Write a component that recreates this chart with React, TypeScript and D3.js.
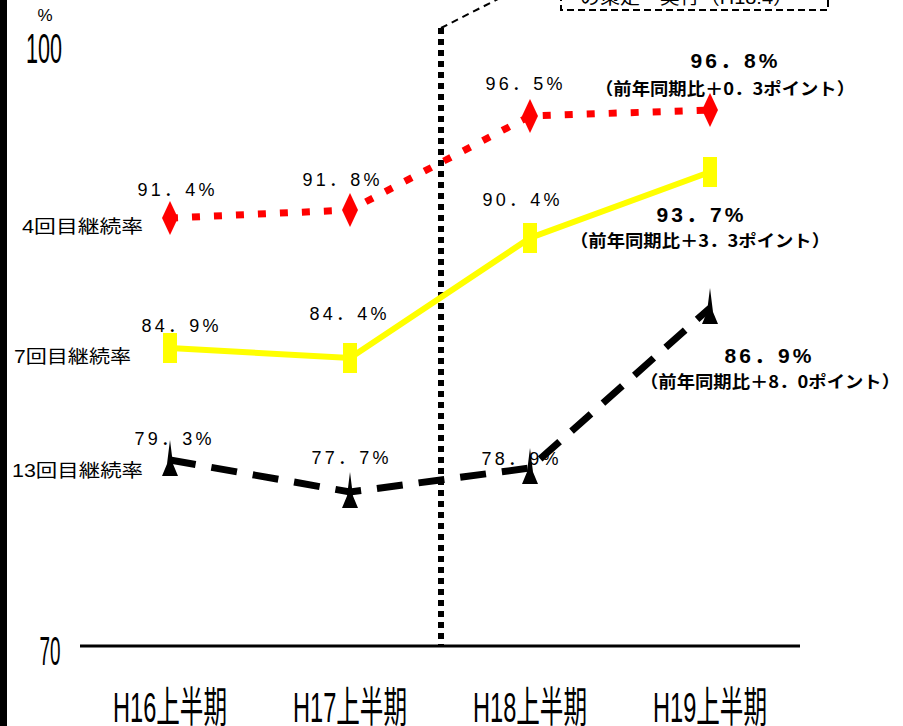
import React from 'react';
import * as d3 from 'd3';

// ── Data ─────────────────────────────────────────────────────────────────────
const periods = ['H16上半期', 'H17上半期', 'H18上半期', 'H19上半期'];
const rate4 = [91.4, 91.8, 96.5, 96.8];
const rate7 = [84.9, 84.4, 90.4, 93.7];
const rate13 = [79.3, 77.7, 78.9, 86.9];
const seriesNames = ['4回目継続率', '7回目継続率', '13回目継続率'];
const yTicks = [70, 100];
const labels4 = ['91．4%', '91．8%', '96．5%'];
const labels7 = ['84．9%', '84．4%', '90．4%'];
const labels13 = ['79．3%', '77．7%', '78．9%'];
const latest = ['96．8%', '93．7%', '86．9%'];
const latestDiff = ['（前年同期比＋0．3ポイント）', '（前年同期比＋3．3ポイント）', '（前年同期比＋8．0ポイント）'];

// label nudges relative to their point: [dx, dy]
const off4 = [[6, -22], [-9, -24], [-6, -26]];
const off7 = [[10, -16], [-2, -38], [-9, -32]];
const off13 = [[3, -15], [0, -28], [-10, -3]];
// last-point callouts: [dx main, dy main, dx sub, dy sub]
const offLatest = [[24, -42, 15, -15], [-10, 50, -10, 75], [58, 55, 60, 80]];

const W = 903;
const H = 726;
const SANS = '"Liberation Sans", Arial, "Noto Sans CJK JP", sans-serif';
const JP = '"Noto Sans CJK JP", sans-serif';
const X_SQUEEZE = 0.56;
const Y_SQUEEZE = 0.5;

export default function App() {
  const x = d3.scalePoint<string>().domain(periods).range([80, 800]).padding(0.5);
  const y = d3.scaleLinear().domain([70, 100]).range([646, 46]);
  const line = d3
    .line<number>()
    .x((_, i) => x(periods[i]) ?? 0)
    .y((d) => y(d));

  const px = (i: number) => x(periods[i]) ?? 0;
  const dividerX = (px(1) + px(2)) / 2 + 1;

  const valueLabel = (l: string, i: number, v: number, o: number[]) => (
    <text key={l} x={px(i) + o[0]} y={y(v) + o[1]} textAnchor="middle" fontSize={18}
      fontFamily={SANS} textLength={77} lengthAdjust="spacing">{l}</text>
  );

  const series = [rate4, rate7, rate13];

  return (
    <svg width={W} height={H} style={{ position: 'absolute', left: 0, top: 0, background: '#fff' }}>
      {/* left frame edge */}
      <rect x={0} y={0} width={7} height={H} fill="#000" />

      {/* y labels (condensed) */}
      <text x={45} y={21} textAnchor="middle" fontSize={17} fontFamily={SANS}>%</text>
      <text transform={`translate(44,63) scale(${Y_SQUEEZE},1)`} textAnchor="middle" fontSize={42}
        fontFamily={SANS} textLength={36 / Y_SQUEEZE} lengthAdjust="spacingAndGlyphs">{yTicks[1]}</text>
      <text transform={`translate(50,665) scale(${Y_SQUEEZE},1)`} textAnchor="middle" fontSize={40}
        fontFamily={SANS} textLength={21 / Y_SQUEEZE} lengthAdjust="spacingAndGlyphs">{yTicks[0]}</text>

      {/* baseline */}
      <line x1={80} x2={800} y1={y(70)} y2={y(70)} stroke="#000" strokeWidth={3} />

      {/* x labels, squeezed horizontally like the original condensed face */}
      {periods.map((p, i) => (
        <text key={p} transform={`translate(${px(i)},722) scale(${X_SQUEEZE},1)`} textAnchor="middle"
          fontSize={42} fontFamily={SANS} textLength={114 / X_SQUEEZE} lengthAdjust="spacingAndGlyphs">{p}</text>
      ))}

      {/* divider + callout */}
      <line x1={dividerX} x2={dividerX} y1={28} y2={646} stroke="#000" strokeWidth={6} strokeDasharray="6 5" />
      <line x1={dividerX} y1={28} x2={498} y2={-1} stroke="#000" strokeWidth={2} strokeDasharray="7 5" />
      <rect x={561} y={-30} width={267} height={40} fill="#fff" stroke="#000" strokeWidth={2} strokeDasharray="7 4" />
      <text x={580} y={4} fontSize={18} fontFamily={SANS} textLength={213} lengthAdjust="spacingAndGlyphs">の策定・実行（H18.4）</text>

      {/* series 4 */}
      <path d={line(rate4) ?? ''} fill="none" stroke="#f00" strokeWidth={7} strokeDasharray="8 14" />
      {rate4.map((v, i) => (
        <path key={i} d={`M${px(i)},${y(v) - 17}L${px(i) + 8},${y(v)}L${px(i)},${y(v) + 17}L${px(i) - 8},${y(v)}Z`} fill="#f00" />
      ))}

      {/* series 7 */}
      <path d={line(rate7) ?? ''} fill="none" stroke="#ff0" strokeWidth={6} />
      {rate7.map((v, i) => (
        <rect key={i} x={px(i) - 7} y={y(v) - 15} width={14} height={30} fill="#ff0" />
      ))}

      {/* series 13 */}
      <path d={line(rate13) ?? ''} fill="none" stroke="#000" strokeWidth={7} strokeDasharray="26 16" />
      {rate13.map((v, i) => (
        <path key={i} d={`M${px(i)},${y(v) - 20}L${px(i) + 3},${y(v) + 4}L${px(i) + 8},${y(v) + 16}L${px(i) - 8},${y(v) + 16}L${px(i) - 3},${y(v) + 4}Z`} fill="#000" />
      ))}

      {/* series names */}
      <text x={22} y={233} fontSize={18} fontFamily={SANS} textLength={121} lengthAdjust="spacingAndGlyphs">{seriesNames[0]}</text>
      <text x={14} y={363} fontSize={18} fontFamily={SANS} textLength={117} lengthAdjust="spacingAndGlyphs">{seriesNames[1]}</text>
      <text x={12} y={477} fontSize={18} fontFamily={SANS} textLength={131} lengthAdjust="spacingAndGlyphs">{seriesNames[2]}</text>

      {/* value labels */}
      {labels4.map((l, i) => valueLabel(l, i, rate4[i], off4[i]))}
      {labels7.map((l, i) => valueLabel(l, i, rate7[i], off7[i]))}
      {labels13.map((l, i) => valueLabel(l, i, rate13[i], off13[i]))}

      {/* latest values */}
      {series.map((s, k) => {
        const v = s[3];
        const o = offLatest[k];
        return (
          <g key={k} fontWeight="bold">
            <text x={px(3) + o[0]} y={y(v) + o[1]} textAnchor="middle" fontSize={21} fontFamily={SANS}
              textLength={87} lengthAdjust="spacing">{latest[k]}</text>
            <text x={px(3) + o[2]} y={y(v) + o[3]} textAnchor="middle" fontSize={17} fontFamily={JP}
              textLength={260} lengthAdjust="spacingAndGlyphs">{latestDiff[k]}</text>
          </g>
        );
      })}
    </svg>
  );
}
